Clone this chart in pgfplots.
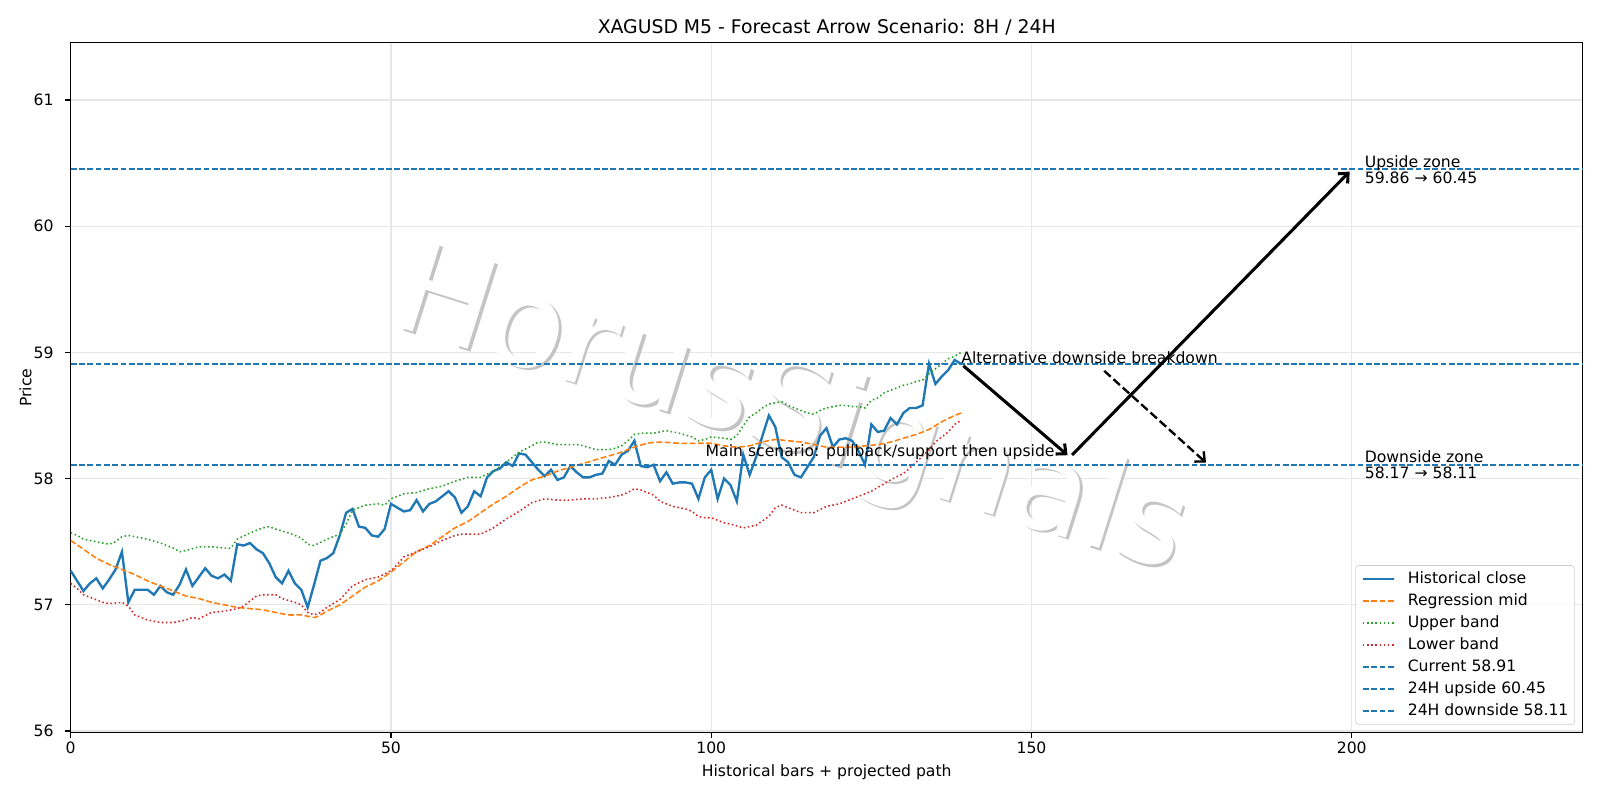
\documentclass[border=0pt]{standalone}
\usepackage{fontspec}
\setmainfont{DejaVu Sans}
\usepackage{pgfplots}
\pgfplotsset{compat=1.18}
\usetikzlibrary{arrows.meta}
\definecolor{cC0}{HTML}{1F77B4}
\definecolor{cC1}{HTML}{FF7F0E}
\definecolor{cC2}{HTML}{2CA02C}
\definecolor{cC3}{HTML}{D62728}
\definecolor{gridc}{HTML}{E7E7E7}
\definecolor{legc}{HTML}{CCCCCC}
\definecolor{wmshadow}{HTML}{C4C4C4}
\newcommand{\fs}{\fontsize{11.3}{13.5}\selectfont}
\begin{document}
\begin{tikzpicture}
\useasboundingbox (-0.707in,-0.673in) rectangle (15.293in,7.327in);
\begin{axis}[
  at={(0,0)}, anchor=south west,
  width=15.12in, height=6.90in, scale only axis,
  xmin=0, xmax=236.06, ymin=55.987, ymax=61.454,
  xtick={0,50,100,150,200}, ytick={56,57,58,59,60,61},
  /pgf/number format/assume math mode=true,
  tick align=outside, xtick pos=lower, ytick pos=left,
  major tick length=3.96pt,
  every tick/.style={black, line width=0.9pt},
  axis line style={line width=0.9pt},
  grid=major, major grid style={gridc, line width=0.9pt},
  ticklabel style={font=\fs},
  xticklabel style={inner sep=0pt, anchor=north, yshift=-2.8pt},
  yticklabel style={inner sep=0pt, anchor=east, xshift=-8.2pt},
  title={XAGUSD M5 - Forecast Arrow Scenario: 8H / 24H},
  every axis title/.style={at={(0.5,1)}, anchor=base, inner sep=0pt, yshift=6.8pt, font=\fontsize{13.6}{16}\selectfont},
  xlabel={Historical bars + projected path},
  every axis x label/.style={at={([yshift=-28.6pt]axis description cs:0.5,0)}, anchor=center, inner sep=0pt, font=\fs},
  ylabel={Price},
  every axis y label/.style={at={([xshift=-32.7pt]axis description cs:0,0.5)}, anchor=center, rotate=90, inner sep=0pt, font=\fs},
  legend style={at={([xshift=-5.65pt,yshift=5.65pt]rel axis cs:1,0)}, anchor=south east,
    draw=legc, rounded corners=2.5pt, fill=white, fill opacity=0.8, text opacity=1, draw opacity=1,
    font=\fs, row sep=5.3pt, column sep=9pt, inner xsep=4.5pt, inner ysep=4.5pt,
    nodes={inner sep=0pt, text depth=2.3pt, text height=8.3pt}},
  legend cell align=left,
  legend image code/.code={\draw[#1] (0pt,0pt) -- (22.6pt,0pt);},
  clip=false,
]
% watermark
\node[rotate=-17.5, font=\fontsize{91}{100}\selectfont, text=wmshadow, inner sep=0pt] at ([xshift=7.235in,yshift=3.15in]rel axis cs:0,0) {HorusSignals};
\node[rotate=-17.5, font=\fontsize{91}{100}\selectfont, text=white, inner sep=0pt] at ([xshift=7.21in,yshift=3.177in]rel axis cs:0,0) {HorusSignals};

\addplot[cC0, line width=1.7pt] coordinates {
(0,57.27)(1,57.19)(2,57.11)(3,57.17)(4,57.21)(5,57.13)(6,57.20)(7,57.28)(8,57.42)(9,57.02)
(10,57.12)(11,57.12)(12,57.12)(13,57.08)(14,57.15)(15,57.10)(16,57.08)(17,57.16)(18,57.28)(19,57.15)
(20,57.22)(21,57.29)(22,57.23)(23,57.21)(24,57.24)(25,57.19)(26,57.48)(27,57.47)(28,57.49)(29,57.44)
(30,57.41)(31,57.33)(32,57.22)(33,57.17)(34,57.27)(35,57.17)(36,57.12)(37,56.98)(38,57.16)(39,57.35)
(40,57.37)(41,57.41)(42,57.55)(43,57.73)(44,57.76)(45,57.62)(46,57.61)(47,57.55)(48,57.54)(49,57.60)
(50,57.80)(51,57.77)(52,57.74)(53,57.75)(54,57.83)(55,57.74)(56,57.80)(57,57.82)(58,57.86)(59,57.90)
(60,57.85)(61,57.73)(62,57.78)(63,57.90)(64,57.86)(65,58.01)(66,58.06)(67,58.08)(68,58.13)(69,58.10)
(70,58.20)(71,58.19)(72,58.13)(73,58.07)(74,58.02)(75,58.07)(76,57.99)(77,58.01)(78,58.10)(79,58.05)
(80,58.01)(81,58.01)(82,58.03)(83,58.04)(84,58.14)(85,58.11)(86,58.19)(87,58.22)(88,58.30)(89,58.10)
(90,58.09)(91,58.11)(92,57.98)(93,58.05)(94,57.96)(95,57.97)(96,57.97)(97,57.96)(98,57.84)(99,58.01)
(100,58.07)(101,57.84)(102,58.00)(103,57.95)(104,57.82)(105,58.19)(106,58.03)(107,58.17)(108,58.34)(109,58.50)
(110,58.41)(111,58.17)(112,58.13)(113,58.03)(114,58.01)(115,58.09)(116,58.17)(117,58.34)(118,58.40)(119,58.25)
(120,58.31)(121,58.32)(122,58.30)(123,58.22)(124,58.11)(125,58.43)(126,58.37)(127,58.38)(128,58.48)(129,58.43)
(130,58.52)(131,58.56)(132,58.56)(133,58.58)(134,58.91)(135,58.75)(136,58.81)(137,58.86)(138,58.94)(139,58.91)
};
\addlegendentry{Historical close}

\addplot[cC1, line width=1.13pt, dash pattern=on 4.2pt off 1.8pt, smooth, tension=0.3] coordinates {
(0,57.51)(2,57.44)(4,57.37)(6,57.32)(8,57.28)(10,57.24)(12,57.19)(14,57.15)(16,57.11)(18,57.07)
(20,57.05)(22,57.02)(24,57.00)(26,56.98)(28,56.97)(30,56.96)(32,56.94)(34,56.92)(36,56.92)(38,56.90)
(39,56.92)(40,56.95)(42,57.00)(44,57.07)(46,57.14)(48,57.19)(50,57.26)(52,57.34)(54,57.42)(56,57.47)
(58,57.54)(60,57.61)(62,57.66)(64,57.73)(66,57.80)(68,57.86)(70,57.93)(72,57.99)(74,58.02)(76,58.06)
(78,58.09)(80,58.12)(82,58.15)(84,58.18)(86,58.21)(88,58.25)(90,58.28)(92,58.29)(95,58.28)(98,58.28)
(100,58.28)(102,58.26)(104,58.25)(106,58.26)(108,58.29)(110,58.31)(112,58.30)(114,58.29)(116,58.27)(118,58.25)
(120,58.25)(122,58.25)(124,58.26)(126,58.27)(128,58.29)(130,58.32)(132,58.35)(134,58.39)(136,58.45)(138,58.50)(139,58.52)
};
\addlegendentry{Regression mid}

\addplot[cC2, line width=1.13pt, dash pattern=on 1.13pt off 1.87pt] coordinates {
(0,57.57)(1,57.55)(2,57.52)(4,57.50)(6,57.48)(7,57.50)(8,57.54)(9,57.55)(10,57.54)(12,57.52)
(14,57.49)(16,57.45)(17,57.42)(18,57.43)(20,57.46)(22,57.46)(24,57.45)(25,57.45)(26,57.52)(28,57.57)
(30,57.61)(31,57.62)(32,57.60)(34,57.57)(36,57.53)(37,57.48)(38,57.47)(40,57.52)(42,57.56)(43,57.64)
(44,57.75)(45,57.77)(46,57.79)(48,57.80)(49,57.79)(50,57.84)(52,57.88)(54,57.89)(56,57.92)(58,57.94)
(60,57.98)(62,58.01)(64,58.01)(66,58.06)(68,58.13)(70,58.21)(72,58.26)(73,58.29)(74,58.29)(76,58.27)
(78,58.27)(79,58.27)(80,58.26)(82,58.23)(84,58.23)(85,58.24)(86,58.26)(87,58.30)(88,58.35)(89,58.36)
(91,58.36)(93,58.38)(95,58.36)(97,58.33)(98,58.30)(99,58.31)(100,58.33)(102,58.32)(103,58.31)(104,58.34)
(105,58.42)(106,58.49)(107,58.52)(108,58.56)(109,58.59)(110,58.60)(111,58.61)(112,58.58)(113,58.56)(114,58.54)
(115,58.52)(116,58.51)(117,58.54)(118,58.56)(119,58.57)(120,58.58)(121,58.58)(122,58.57)(123,58.57)(124,58.56)
(125,58.62)(126,58.64)(127,58.68)(128,58.70)(129,58.72)(130,58.74)(131,58.75)(132,58.77)(133,58.78)(134,58.83)
(135,58.87)(136,58.91)(137,58.95)(138,58.97)(139,59.00)
};
\addlegendentry{Upper band}

\addplot[cC3, line width=1.13pt, dash pattern=on 1.13pt off 1.87pt] coordinates {
(0,57.17)(1,57.13)(2,57.08)(3,57.06)(5,57.02)(6,57.01)(8,57.02)(9,56.99)(10,56.92)(12,56.88)
(14,56.86)(16,56.86)(18,56.88)(19,56.90)(20,56.89)(22,56.94)(24,56.95)(26,56.97)(27,56.99)(28,57.03)
(29,57.07)(30,57.08)(32,57.08)(33,57.05)(35,57.02)(36,57.00)(37,56.94)(38,56.92)(39,56.94)(40,56.98)
(42,57.04)(44,57.15)(46,57.20)(48,57.22)(50,57.27)(51,57.32)(52,57.38)(54,57.42)(56,57.46)(58,57.51)
(60,57.55)(61,57.56)(63,57.56)(64,57.56)(66,57.61)(68,57.68)(70,57.74)(72,57.81)(74,57.84)(76,57.83)
(78,57.83)(80,57.84)(82,57.84)(84,57.85)(86,57.87)(87,57.89)(88,57.92)(89,57.91)(90,57.89)(91,57.87)
(92,57.82)(94,57.78)(96,57.76)(97,57.74)(98,57.70)(99,57.69)(100,57.69)(102,57.65)(103,57.64)(105,57.61)
(107,57.63)(109,57.70)(110,57.77)(111,57.79)(112,57.77)(114,57.73)(116,57.73)(118,57.78)(120,57.80)(122,57.84)
(124,57.88)(125,57.90)(127,57.96)(128,57.99)(130,58.04)(132,58.13)(134,58.23)(135,58.29)(136,58.33)(137,58.37)
(138,58.43)(139,58.46)
};
\addlegendentry{Lower band}

\addplot[cC0, line width=1.2pt, dash pattern=on 4.2pt off 1.8pt] coordinates {(0,58.91)(236.06,58.91)};
\addlegendentry{Current 58.91}
\addplot[cC0, line width=1.2pt, dash pattern=on 4.2pt off 1.8pt] coordinates {(0,60.452)(236.06,60.452)};
\addlegendentry{24H upside 60.45}
\addplot[cC0, line width=1.2pt, dash pattern=on 4.2pt off 1.8pt] coordinates {(0,58.11)(236.06,58.11)};
\addlegendentry{24H downside 58.11}

% arrows
\draw[black, line width=2.2pt, shorten <=2.2pt, shorten >=2.2pt, -{Straight Barb[length=5.5pt,width=10pt]}] (axis cs:139,58.91) -- (axis cs:156,58.17);
\draw[black, line width=2.2pt, shorten <=2.2pt, shorten >=2.2pt, -{Straight Barb[length=5.5pt,width=10pt]}] (axis cs:156,58.17) -- (axis cs:200,60.45);
\draw[black, line width=1.7pt, dash pattern=on 6.3pt off 2.7pt, shorten <=2.2pt, shorten >=2.2pt, -{Straight Barb[length=5.5pt,width=10pt]}] (axis cs:161,58.87) -- (axis cs:177.6,58.11);

% annotations
\node[anchor=base west, inner sep=0pt, font=\fs] at (axis cs:139,58.91) {Alternative downside breakdown};
\node[anchor=base west, inner sep=0pt, font=\fs] at (axis cs:99.1,58.175) {Main scenario: pullback/support then upside};
\node[anchor=west, inner sep=0pt, align=left, font=\fontsize{11.3}{11.5}\selectfont] at (axis cs:202,60.45) {Upside zone\\59.86 → 60.45};
\node[anchor=west, inner sep=0pt, align=left, font=\fontsize{11.3}{11.5}\selectfont] at (axis cs:202,58.11) {Downside zone\\58.17 → 58.11};
\end{axis}
\end{tikzpicture}
\end{document}
